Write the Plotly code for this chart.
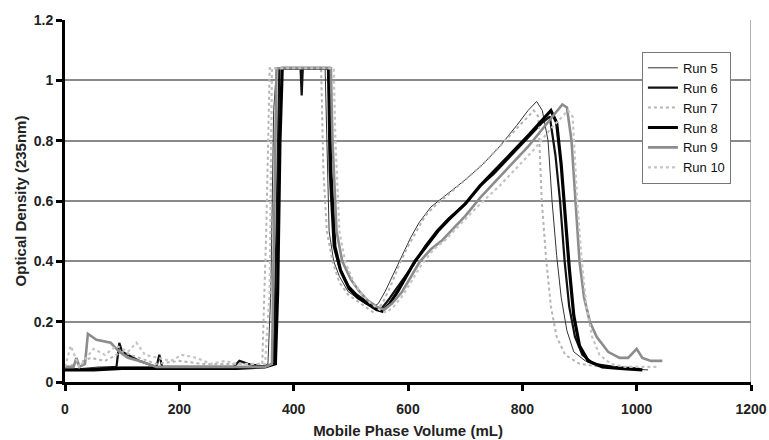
import plotly.graph_objects as go

# ---- data ----
run5_x = [0, 30, 60, 100, 150, 200, 250, 300, 340, 355, 360, 365, 370, 455, 458, 462, 470, 480, 495, 510, 525, 540, 548, 560, 575, 590, 605, 620, 640, 660, 680, 700, 730, 760, 790, 810, 825, 835, 845, 852, 860, 868, 878, 890, 910, 940, 980, 1020]
run5_y = [0.04, 0.045, 0.05, 0.05, 0.05, 0.05, 0.05, 0.05, 0.05, 0.06, 0.3, 0.9, 1.04, 1.04, 0.8, 0.5, 0.4, 0.35, 0.3, 0.28, 0.26, 0.25, 0.26, 0.3, 0.36, 0.42, 0.48, 0.53, 0.58, 0.61, 0.64, 0.67, 0.72, 0.78, 0.85, 0.9, 0.93, 0.9, 0.8, 0.6, 0.42, 0.28, 0.17, 0.1, 0.07, 0.05, 0.045, 0.04]

run6_x = [0, 30, 60, 90, 95, 100, 130, 160, 165, 170, 200, 250, 295, 305, 320, 350, 365, 370, 375, 412, 414, 416, 460, 463, 470, 480, 495, 510, 525, 540, 552, 565, 580, 595, 610, 630, 650, 670, 700, 726, 750, 780, 810, 835, 848, 858, 866, 874, 882, 892, 905, 925, 960, 1000]
run6_y = [0.04, 0.04, 0.045, 0.05, 0.13, 0.1, 0.07, 0.05, 0.09, 0.05, 0.05, 0.05, 0.05, 0.07, 0.06, 0.05, 0.06, 0.5, 1.04, 1.04, 0.95, 1.04, 1.04, 0.7, 0.45, 0.38, 0.32, 0.29, 0.27, 0.25, 0.24, 0.27, 0.31, 0.35, 0.39, 0.45, 0.5, 0.54, 0.59, 0.65, 0.69, 0.75, 0.81, 0.86, 0.88, 0.75, 0.6, 0.4, 0.25, 0.15, 0.09, 0.06, 0.05, 0.045]

run7_x = [0, 20, 45, 70, 100, 130, 160, 200, 240, 280, 320, 345, 352, 358, 448, 452, 458, 468, 480, 495, 510, 525, 540, 555, 570, 585, 600, 615, 630, 650, 670, 700, 730, 760, 790, 810, 820, 828, 834, 842, 850, 860, 875, 900, 940, 980, 1010]
run7_y = [0.05, 0.06, 0.08, 0.07, 0.1, 0.08, 0.06, 0.07, 0.06, 0.06, 0.06, 0.06, 0.5, 1.04, 1.04, 0.7, 0.5, 0.4, 0.33, 0.29, 0.27, 0.25, 0.23, 0.26, 0.32, 0.39, 0.45, 0.5, 0.55, 0.59, 0.62, 0.67, 0.72, 0.78, 0.84, 0.88, 0.9, 0.88, 0.6, 0.4, 0.25, 0.15, 0.09, 0.06, 0.05, 0.05, 0.045]

run8_x = [0, 50, 100, 150, 200, 250, 300, 350, 368, 372, 376, 380, 462, 465, 472, 482, 497, 512, 528, 545, 555, 568, 582, 597, 612, 632, 652, 672, 700, 726, 752, 782, 812, 835, 850, 860, 868, 875, 882, 890, 900, 915, 940, 970, 1010]
run8_y = [0.04, 0.04, 0.045, 0.045, 0.045, 0.045, 0.045, 0.05, 0.06, 0.3, 0.8, 1.04, 1.04, 0.7, 0.45, 0.37, 0.31, 0.28, 0.26, 0.24, 0.235, 0.26, 0.3, 0.35, 0.4, 0.45, 0.5, 0.54, 0.59, 0.65, 0.7, 0.76, 0.82, 0.87, 0.9, 0.86, 0.72, 0.55, 0.38, 0.22, 0.12, 0.07, 0.05, 0.045, 0.04]

run9_x = [0, 15, 20, 25, 35, 40, 55, 80, 95, 110, 130, 160, 200, 250, 300, 350, 362, 366, 370, 465, 468, 475, 485, 500, 515, 530, 545, 558, 572, 590, 606, 621, 640, 660, 680, 700, 726, 750, 780, 810, 840, 860, 870, 878, 886, 893, 900, 908, 918, 930, 950, 970, 985, 1000, 1010, 1025, 1045]
run9_y = [0.05, 0.05, 0.08, 0.05, 0.06, 0.16, 0.14, 0.13, 0.1, 0.08, 0.07, 0.05, 0.05, 0.05, 0.05, 0.05, 0.06, 0.5, 1.04, 1.04, 0.8, 0.5, 0.4, 0.34, 0.3, 0.27, 0.25, 0.24, 0.26, 0.3, 0.35, 0.4, 0.44, 0.47, 0.51, 0.55, 0.61, 0.66, 0.72, 0.78, 0.85, 0.9, 0.92, 0.91, 0.8, 0.6, 0.4, 0.28, 0.2, 0.15, 0.1, 0.08, 0.08, 0.11, 0.08, 0.07, 0.07]

run10_x = [0, 10, 25, 50, 70, 90, 110, 125, 140, 160, 185, 205, 230, 255, 280, 300, 330, 350, 358, 362, 470, 473, 480, 490, 505, 520, 535, 550, 562, 575, 592, 608, 624, 645, 665, 690, 726, 760, 790, 820, 850, 870, 880, 888, 896, 904, 912, 922, 935, 955, 980, 1010, 1040]
run10_y = [0.05, 0.12, 0.05, 0.11, 0.09, 0.12, 0.1, 0.13, 0.09, 0.08, 0.07, 0.09, 0.08, 0.06, 0.07, 0.06, 0.06, 0.06, 0.3, 1.04, 1.04, 0.8, 0.5, 0.4, 0.33, 0.29, 0.26, 0.24, 0.23, 0.25, 0.29, 0.34, 0.39, 0.44, 0.47, 0.52, 0.59, 0.65, 0.71, 0.77, 0.84, 0.88, 0.9, 0.88, 0.6, 0.4, 0.25, 0.15, 0.09, 0.06, 0.05, 0.05, 0.05]

x_ticks = [0, 200, 400, 600, 800, 1000, 1200]
y_ticks = [0, 0.2, 0.4, 0.6, 0.8, 1, 1.2]
y_tick_text = ["0", "0.2", "0.4", "0.6", "0.8", "1", "1.2"]

series = [
    ("Run 5", run5_x, run5_y, dict(color="#333333", width=1)),
    ("Run 6", run6_x, run6_y, dict(color="#111111", width=2.2)),
    ("Run 7", run7_x, run7_y, dict(color="#b4b4b4", width=2, dash="dot")),
    ("Run 8", run8_x, run8_y, dict(color="#000000", width=3.2)),
    ("Run 9", run9_x, run9_y, dict(color="#8c8c8c", width=2.6)),
    ("Run 10", run10_x, run10_y, dict(color="#c4c4c4", width=2.2, dash="dot")),
]

fig = go.Figure()
for name, xs, ys, ln in series:
    fig.add_trace(go.Scatter(x=xs, y=ys, mode="lines", name=name, line=ln))

font_family = "Arial, Liberation Sans, Helvetica, sans-serif"

fig.add_shape(type="line", xref="x", yref="paper", x0=1200, x1=1200, y0=0, y1=1,
              line=dict(color="#9a9a9a", width=1.5), layer="below")

fig.update_layout(
    width=769, height=440,
    margin=dict(l=65, r=18, t=20, b=58),
    paper_bgcolor="white", plot_bgcolor="white",
    font=dict(family=font_family, color="#222222", size=13),
    showlegend=True,
    legend=dict(
        x=0.841, y=0.912, xanchor="left", yanchor="top",
        bgcolor="white", bordercolor="#777777", borderwidth=1,
        font=dict(family=font_family, size=13, color="#111111"),
        tracegroupgap=0, itemwidth=30,
    ),
    xaxis=dict(
        range=[0, 1200], tickvals=x_ticks, ticktext=[str(v) for v in x_ticks],
        showgrid=False, zeroline=False, automargin=False,
        showline=True, linecolor="black", linewidth=3,
        ticks="outside", ticklen=6, tickwidth=3, tickcolor="black",
        ticklabelstandoff=6,
        tickfont=dict(family=font_family, size=14, weight="bold", color="#222222"),
        title=dict(text="Mobile Phase Volume (mL)", standoff=10,
                   font=dict(family=font_family, size=15, weight="bold", color="#222222")),
    ),
    yaxis=dict(
        range=[0, 1.2], tickvals=y_ticks, ticktext=y_tick_text,
        showgrid=True, gridcolor="#8a8a8a", gridwidth=1.5, zeroline=False, automargin=False,
        showline=True, linecolor="black", linewidth=3,
        ticks="outside", ticklen=6, tickwidth=3, tickcolor="black",
        tickfont=dict(family=font_family, size=14, weight="bold", color="#222222"),
        title=dict(text="Optical Density (235nm)", standoff=4,
                   font=dict(family=font_family, size=15, weight="bold", color="#222222")),
    ),
)

# remove the default page margin / scrollbars so the 769x440 figure sits at the corner
fig.write_html(
    "out.html",
    config={"displayModeBar": False},
    post_script="document.body.style.margin='0';document.body.style.overflow='hidden';",
)
